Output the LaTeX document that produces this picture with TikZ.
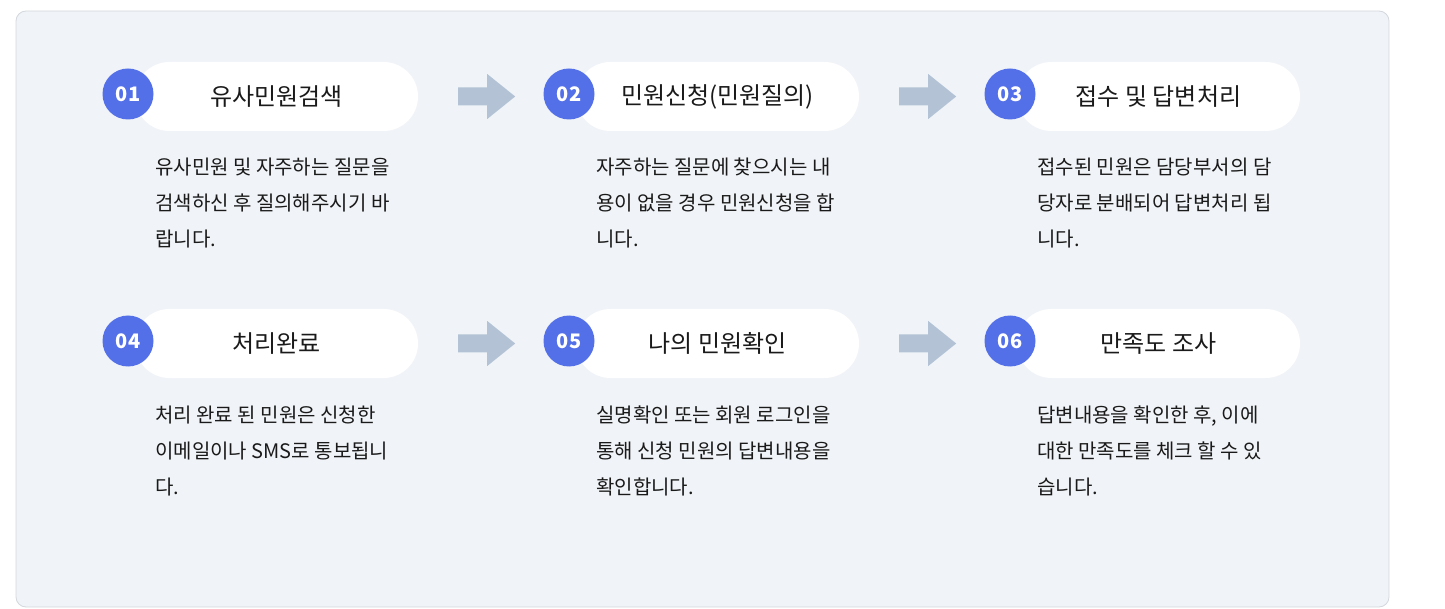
\documentclass[tikz,border=0pt]{standalone}
\usepackage{fontspec}
\setmainfont{Noto Sans CJK KR}
\usetikzlibrary{calc}
\definecolor{bgfill}{HTML}{F0F3F7}
\definecolor{bgline}{HTML}{D3D8DE}
\definecolor{numblue}{HTML}{5470E8}
\definecolor{arrowc}{HTML}{B3C3D5}
\definecolor{txt}{HTML}{1A1A1A}
\tikzset{
  pill/.style={fill=white, rounded corners=34.5pt, minimum width=283pt, minimum height=69pt, inner sep=0pt,
    text=txt, font=\fontsize{24}{28}\selectfont},
  numdot/.style={circle, fill=numblue, minimum size=51pt, inner sep=0pt, text=white,
    font=\bfseries\fontsize{20}{22}\selectfont},
  desc/.style={anchor=base west, align=left, inner sep=0pt, text=txt,
    font=\fontsize{20}{36}\selectfont},
  flowarrow/.style={fill=arrowc}
}
\newcommand\flowstep[6]{% name, cx, cy, number, title, description
  \node[pill] (#1p) at (#2+148.5, #3+2.5) {#5};
  \node[numdot] (#1c) at (#2, #3) {#4};
  \node[desc] (#1d) at (#2+27, #3+153) {#6};
}
\newcommand\flowarrowdraw[2]{% from pill, to circle
  \fill[flowarrow] ($(#1.east)+(40,9)$) -- ($(#1.east)+(69,9)$) -- ($(#1.east)+(69,22.5)$)
    -- ($(#1.east)+(97,0)$) -- ($(#1.east)+(69,-22.5)$) -- ($(#1.east)+(69,-9)$)
    -- ($(#1.east)+(40,-9)$) -- cycle;
}
\begin{document}
\begin{tikzpicture}[x=1pt, y=-1pt]
  \useasboundingbox (0,0) rectangle (1445,609);
  \draw[bgline, fill=bgfill, rounded corners=10pt, line width=0.8pt] (16,11) rectangle (1389,607);

  \flowstep{s1}{128}{94}{01}{유사민원검색}{유사민원 및 자주하는 질문을\\검색하신 후 질의해주시기 바\\랍니다.}
  \flowstep{s2}{569}{94}{02}{민원신청(민원질의)}{자주하는 질문에 찾으시는 내\\용이 없을 경우 민원신청을 합\\니다.}
  \flowstep{s3}{1010}{94}{03}{접수 및 답변처리}{접수된 민원은 담당부서의 담\\당자로 분배되어 답변처리 됩\\니다.}
  \flowstep{s4}{128}{341}{04}{처리완료}{처리 완료 된 민원은 신청한\\이메일이나 SMS로 통보됩니\\다.}
  \flowstep{s5}{569}{341}{05}{나의 민원확인}{실명확인 또는 회원 로그인을\\통해 신청 민원의 답변내용을\\확인합니다.}
  \flowstep{s6}{1010}{341}{06}{만족도 조사}{답변내용을 확인한 후, 이에\\대한 만족도를 체크 할 수 있\\습니다.}

  \flowarrowdraw{s1p}{s2c}
  \flowarrowdraw{s2p}{s3c}
  \flowarrowdraw{s4p}{s5c}
  \flowarrowdraw{s5p}{s6c}
\end{tikzpicture}
\end{document}
